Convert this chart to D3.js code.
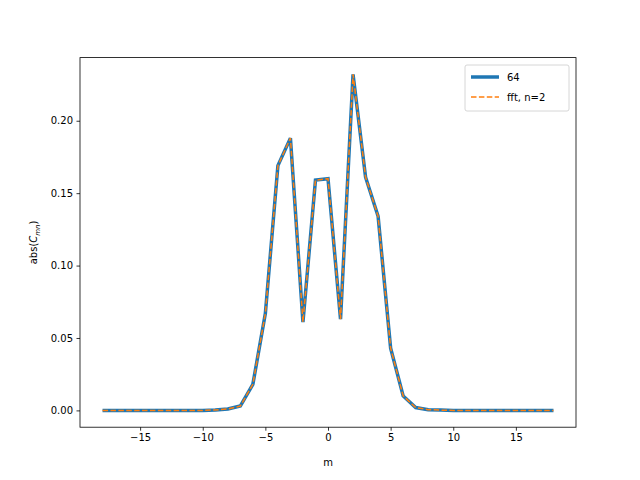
<!DOCTYPE html>
<html><head><meta charset="utf-8">
<script src="https://cdn.jsdelivr.net/npm/d3@7"></script>
<style>body{margin:0;background:#fff}text{font-family:"DejaVu Sans",sans-serif}</style>
</head><body>
<div id="chart"></div>
<script>
// Mode numbers and |C_mn| values
const modes = d3.range(-18, 19);
const absC = [0,0,0,0,0,0,0,0,0,0.0003,0.001,0.003,0.018,0.067,0.169,0.188,0.061,0.159,0.160,0.063,0.232,0.161,0.134,0.043,0.010,0.002,0.0005,0.0002,0,0,0,0,0,0,0,0,0];
const xTicks = [-15, -10, -5, 0, 5, 10, 15];
const yTicks = [0, 0.05, 0.10, 0.15, 0.20];
const pts = modes.map((m, i) => ({m, v: absC[i]}));

const W = 640, H = 480;
const plotL = 80, plotR = 576, plotT = 57.6, plotB = 427.2;

const svg = d3.select("#chart").append("svg").attr("width", W).attr("height", H);

// matplotlib style 5% margins
const x = d3.scaleLinear().domain([-19.8, 19.8]).range([plotL, plotR]);
const yMax = d3.max(absC);
const y = d3.scaleLinear().domain([-yMax * 0.05, yMax * 1.05]).range([plotB, plotT]);

const xAxis = svg.append("g").attr("transform", `translate(0,${plotB})`)
  .call(d3.axisBottom(x).tickValues(xTicks).tickSize(3.5).tickPadding(3.5).tickFormat(d => d < 0 ? "\u2212" + (-d) : d));
const yAxis = svg.append("g").attr("transform", `translate(${plotL},0)`)
  .call(d3.axisLeft(y).tickValues(yTicks).tickSize(3.5).tickPadding(3.5).tickFormat(d3.format(".2f")));
[xAxis, yAxis].forEach(a => {
  a.select(".domain").remove();
  a.selectAll("text").attr("font-size", 10).attr("fill", "#000");
  a.selectAll("line").attr("stroke", "#000").attr("stroke-width", 0.8);
});

svg.append("rect").attr("x", plotL).attr("y", plotT).attr("width", plotR - plotL).attr("height", plotB - plotT)
  .attr("fill", "none").attr("stroke", "#000").attr("stroke-width", 0.8);

const line = d3.line().x(d => x(d.m)).y(d => y(d.v));
svg.append("path").datum(pts).attr("d", line).attr("fill", "none")
  .attr("stroke", "#1f77b4").attr("stroke-width", 3.5);
svg.append("path").datum(pts).attr("d", line).attr("fill", "none")
  .attr("stroke", "#ff7f0e").attr("stroke-width", 1.5).attr("stroke-dasharray", "5.5,2.4");

svg.append("text").attr("x", (plotL + plotR) / 2).attr("y", 466).attr("text-anchor", "middle")
  .attr("font-size", 10).text("m");
const yl = svg.append("text").attr("transform", `translate(37,${(plotT + plotB) / 2}) rotate(-90)`)
  .attr("text-anchor", "middle").attr("font-size", 10);
yl.append("tspan").text("abs(");
yl.append("tspan").attr("font-style", "italic").text("C");
yl.append("tspan").attr("font-style", "italic").attr("font-size", 7).attr("dy", 3).text("mn");
yl.append("tspan").attr("dy", -3).text(")");

// legend
const lg = svg.append("g").attr("transform", "translate(465,65)");
lg.append("rect").attr("width", 104).attr("height", 46).attr("rx", 2).attr("fill", "#fff")
  .attr("stroke", "#ccc").attr("stroke-width", 0.8);
lg.append("line").attr("x1", 6).attr("x2", 34).attr("y1", 12).attr("y2", 12)
  .attr("stroke", "#1f77b4").attr("stroke-width", 3.5);
lg.append("text").attr("x", 42).attr("y", 16).attr("font-size", 10).text("64");
lg.append("line").attr("x1", 6).attr("x2", 34).attr("y1", 32).attr("y2", 32)
  .attr("stroke", "#ff7f0e").attr("stroke-width", 1.5).attr("stroke-dasharray", "5.5,2.4");
lg.append("text").attr("x", 42).attr("y", 36).attr("font-size", 10).text("fft, n=2");
</script>
</body></html>
